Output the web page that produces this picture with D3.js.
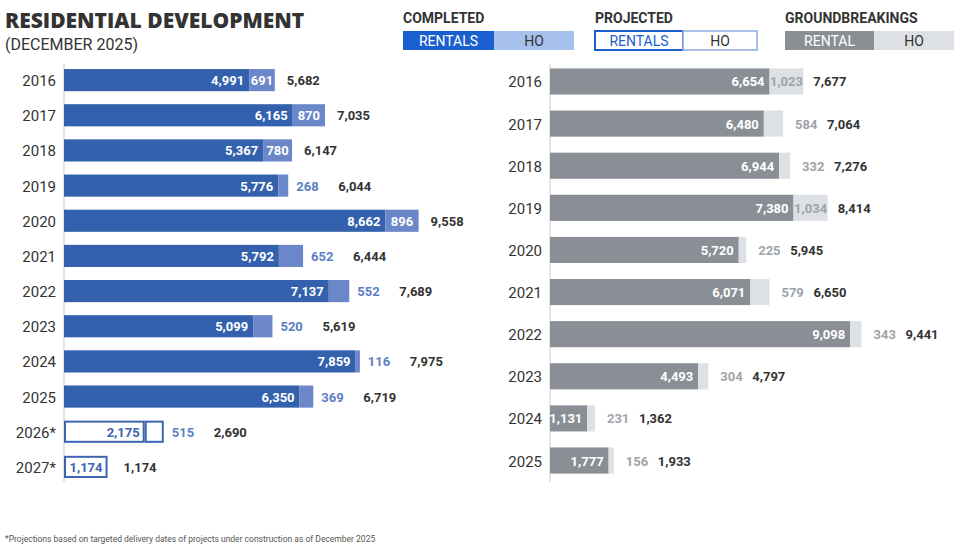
<!DOCTYPE html>
<html><head><meta charset="utf-8">
<script src="https://cdn.jsdelivr.net/npm/d3@7"></script>
<style>body{margin:0;background:#fff}svg{font-family:Roboto,"Noto Sans",sans-serif}</style>
</head><body><svg id="c" width="960" height="552"></svg>
<script>
const leftYears=["2016","2017","2018","2019","2020","2021","2022","2023","2024","2025","2026*","2027*"];
const leftRentals=[4991,6165,5367,5776,8662,5792,7137,5099,7859,6350,2175,1174];
const leftHO=[691,870,780,268,896,652,552,520,116,369,515,0];
const leftProjected=[false,false,false,false,false,false,false,false,false,false,true,true];
const rightYears=["2016","2017","2018","2019","2020","2021","2022","2023","2024","2025"];
const rightRental=[6654,6480,6944,7380,5720,6071,9098,4493,1131,1777];
const rightHO=[1023,584,332,1034,225,579,343,304,231,156];

const svg=d3.select("#c");
const fmt=d3.format(",");
const dark="#333";
svg.append("text").attr("x",5).attr("y",28).attr("font-size",21).attr("font-weight",900).attr("font-family","'Open Sans',sans-serif").attr("fill",dark).text("RESIDENTIAL DEVELOPMENT");
svg.append("text").attr("x",5).attr("y",50).attr("font-size",16).attr("fill",dark).text("(DECEMBER 2025)");
svg.append("text").attr("x",5).attr("y",542).attr("font-size",8.5).attr("fill","#555").text("*Projections based on targeted delivery dates of projects under construction as of December 2025");

function legend(x,title,l1,l2,c1,c2,t1,t2,stroke,w1,w2){
  svg.append("text").attr("x",x).attr("y",23).attr("font-size",14).attr("font-weight",700).attr("fill",dark).text(title);
  svg.append("rect").attr("x",x).attr("y",31).attr("width",w1).attr("height",19).attr("fill",c1).attr("stroke",stroke||"none").attr("stroke-width",2);
  svg.append("rect").attr("x",x+w1).attr("y",31).attr("width",w2).attr("height",19).attr("fill",c2).attr("stroke",stroke?"#8fa9e0":"none").attr("stroke-width",1.5);
  svg.append("text").attr("x",x+w1/2).attr("y",46).attr("text-anchor","middle").attr("font-size",14).attr("fill",t1).text(l1);
  svg.append("text").attr("x",x+w1+w2/2).attr("y",46).attr("text-anchor","middle").attr("font-size",14).attr("fill",t2).text(l2);
}
legend(403,"COMPLETED","RENTALS","HO","#1a5fd0","#a6c1ee","#fff","#333",null,91,80);
legend(595,"PROJECTED","RENTALS","HO","#fff","#fff","#1a5fd0","#333","#1a5fd0",88,74);
legend(785,"GROUNDBREAKINGS","RENTAL","HO","#8a8f96","#dde0e4","#fff","#333",null,89,80);

const L0=64;
const xL=d3.scaleLinear().domain([0,10000]).range([L0,L0+371]);
const yL=d3.scaleBand().domain(leftYears).range([62,485]).paddingInner(0.37).paddingOuter(0.2);
svg.append("line").attr("x1",L0).attr("x2",L0).attr("y1",64).attr("y2",482).attr("stroke","#ccc");
leftYears.forEach((yr,i)=>{
  const y=yL(yr),h=yL.bandwidth(),cy=y+h/2+5;
  const r=leftRentals[i],ho=leftHO[i],p=leftProjected[i];
  const xr=xL(r),xe=xL(r+ho);
  svg.append("text").attr("x",L0-8).attr("y",cy+1).attr("text-anchor","end").attr("font-size",15).attr("fill",dark).text(yr);
  if(p){
    svg.append("rect").attr("x",L0+1).attr("y",y+1).attr("width",xr-L0-2).attr("height",h-2).attr("fill","#fff").attr("stroke","#3d64b0").attr("stroke-width",2);
    if(ho>0) svg.append("rect").attr("x",xr+1).attr("y",y+1).attr("width",xe-xr-2).attr("height",h-2).attr("fill","#fff").attr("stroke","#3d64b0").attr("stroke-width",2);
  } else {
    svg.append("rect").attr("x",L0).attr("y",y).attr("width",xr-L0).attr("height",h).attr("fill","#3461ad");
    svg.append("rect").attr("x",xr).attr("y",y).attr("width",xe-xr).attr("height",h).attr("fill","#6b87c9");
  }
  svg.append("text").attr("x",xr-5).attr("y",cy).attr("text-anchor","end").attr("font-size",13).attr("font-weight",700).attr("fill",p?"#3d64b0":"#fff").text(fmt(r));
  let tx;
  if(ho>0){
    if(ho>=680&&!p){svg.append("text").attr("x",(xr+xe)/2).attr("y",cy).attr("text-anchor","middle").attr("font-size",13).attr("font-weight",700).attr("fill","#fff").text(fmt(ho));tx=xe+12;}
    else{svg.append("text").attr("x",xe+8).attr("y",cy).attr("font-size",13).attr("font-weight",700).attr("fill","#5b7ec4").text(fmt(ho));tx=xe+50;}
  } else tx=xe+16;
  svg.append("text").attr("x",tx).attr("y",cy).attr("font-size",13).attr("font-weight",700).attr("fill",dark).text(fmt(r+ho));
});

const R0=550;
const xR=d3.scaleLinear().domain([0,10000]).range([R0,R0+330]);
const yR=d3.scaleBand().domain(rightYears).range([60,482]).paddingInner(0.38).paddingOuter(0.2);
svg.append("line").attr("x1",R0).attr("x2",R0).attr("y1",64).attr("y2",482).attr("stroke","#ccc");
rightYears.forEach((yr,i)=>{
  const y=yR(yr),h=yR.bandwidth(),cy=y+h/2+5;
  const r=rightRental[i],ho=rightHO[i];
  const xr=xR(r),xe=xR(r+ho);
  svg.append("text").attr("x",R0-8).attr("y",cy+1).attr("text-anchor","end").attr("font-size",15).attr("fill",dark).text(yr);
  svg.append("rect").attr("x",R0).attr("y",y).attr("width",xr-R0).attr("height",h).attr("fill","#8a8f96");
  svg.append("rect").attr("x",xr).attr("y",y).attr("width",xe-xr).attr("height",h).attr("fill","#dde0e4");
  svg.append("text").attr("x",xr-5).attr("y",cy).attr("text-anchor","end").attr("font-size",13).attr("font-weight",700).attr("fill","#fff").text(fmt(r));
  let tx;
  if(xe-xr>=32){
    svg.append("text").attr("x",(xr+xe)/2).attr("y",cy).attr("text-anchor","middle").attr("font-size",13).attr("font-weight",700).attr("fill","#a0a4a8").text(fmt(ho));
    tx=xe+10;
  } else {
    svg.append("text").attr("x",xe+12).attr("y",cy).attr("font-size",13).attr("font-weight",700).attr("fill","#a0a4a8").text(fmt(ho));
    tx=xe+44;
  }
  svg.append("text").attr("x",tx).attr("y",cy).attr("font-size",13).attr("font-weight",700).attr("fill",dark).text(fmt(r+ho));
});
</script></body></html>
